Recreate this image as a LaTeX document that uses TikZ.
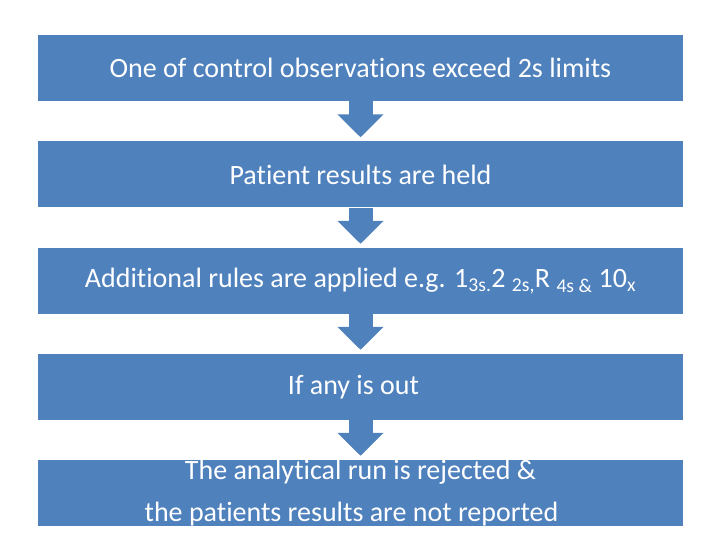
\documentclass[tikz,border=0pt]{standalone}
\usepackage{fontspec}
\setmainfont[Ligatures=NoCommon]{Carlito}
\usetikzlibrary{arrows.meta,positioning}
\definecolor{boxblue}{RGB}{79,129,189}

\begin{document}
\begin{tikzpicture}[x=1pt, y=-1pt,
        stepbox/.style={rectangle, fill=boxblue, text=white, minimum width=645pt, minimum height=66pt, inner sep=0pt, align=center, font=\fontsize{28}{34}\selectfont},
        flow/.style={boxblue, line width=24pt, -{Triangle[width=45pt, length=23pt]}, shorten >=4pt}]

      \useasboundingbox (0,0) rectangle (720,540);

      \node[stepbox] (obs) at (360.5,68) {One of control observations exceed 2s limits};
      \node[stepbox] (held) at (360.5,174.5) {Patient results are held};
      \node[stepbox] (rules) at (360.5,281) {Additional rules are applied e.g. 1\textsubscript{3s.}2 \textsubscript{2s,}R \textsubscript{4s \&} 10\textsubscript{x}};
      \node[stepbox] (out) at (360.5,387) {If any is out\hspace*{14pt}};
      \node[stepbox, font=\fontsize{28}{42}\selectfont] (reject) at (360.5,493) {The analytical run is rejected \&\\the patients results are not reported\hspace*{18pt}};

      \draw[flow] (obs) -- (held);
      \draw[flow] (held) -- (rules);
      \draw[flow] (rules) -- (out);
      \draw[flow] (out) -- (reject);
    \end{tikzpicture}
\end{document}
